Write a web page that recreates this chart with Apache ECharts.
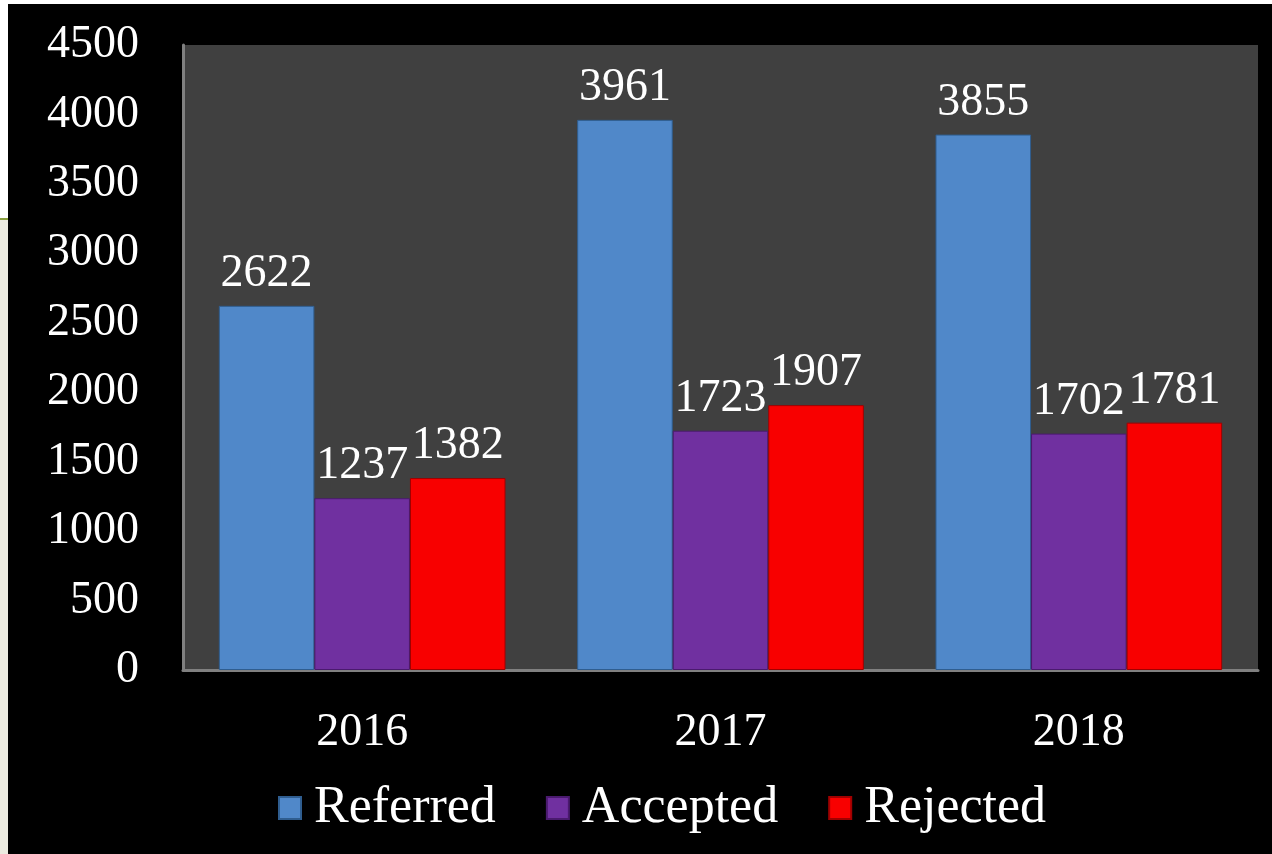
<!DOCTYPE html>
<html>
<head>
<meta charset="utf-8">
<script src="https://cdn.jsdelivr.net/npm/echarts@6/dist/echarts.min.js"></script>
<style>
  html, body { margin: 0; padding: 0; background: #ffffff; }
  #strip { position: absolute; left: 0; top: 218px; width: 8px; height: 636px; background: #ecebe0; border-top: 2px dashed #8aa040; }
  #main { position: absolute; left: 8px; top: 4px; width: 1264px; height: 850px; background: #000; }
</style>
</head>
<body>
<div id="strip"></div>
<div id="main"></div>
<script>
// chart data
var years = ["2016", "2017", "2018"];
var referred = [2622, 3961, 3855];
var accepted = [1237, 1723, 1702];
var rejected = [1382, 1907, 1781];

var serif = "'Liberation Serif', 'DejaVu Serif', serif";

function barSeries(name, data, color, edge) {
  return {
    name: name,
    type: "bar",
    data: data,
    barGap: 0,
    barCategoryGap: "20%",
    itemStyle: {
      color: color,
      borderColor: edge,
      borderWidth: 1
    },
    label: {
      show: true,
      position: "top",
      distance: 9,
      color: "#fff",
      fontFamily: serif,
      fontSize: 46
    }
  };
}

var myChart = echarts.init(document.getElementById("main"));
myChart.setOption({
  backgroundColor: "#000",
  animation: false,
  grid: {
    left: 175,
    right: 14,
    top: 41,
    bottom: 184,
    show: true,
    backgroundColor: "#404040",
    borderWidth: 0
  },
  legend: {
    bottom: 15,
    left: 265,
    itemWidth: 22,
    itemHeight: 22,
    itemGap: 50,
    icon: "rect",
    textStyle: { color: "#fff", fontFamily: serif, fontSize: 52, padding: [0, 0, 0, 8] },
    data: ["Referred", "Accepted", "Rejected"]
  },
  xAxis: {
    type: "category",
    data: years,
    axisLine: { lineStyle: { color: "#808080", width: 3 } },
    axisTick: { show: false },
    axisLabel: { color: "#fff", fontFamily: serif, fontSize: 46, margin: 40 }
  },
  yAxis: {
    type: "value",
    min: 0,
    max: 4500,
    interval: 500,
    axisLine: { show: true, lineStyle: { color: "#808080", width: 3 } },
    axisTick: { show: false },
    splitLine: { show: false },
    axisLabel: {
      color: "#fff",
      fontFamily: serif,
      fontSize: 46,
      margin: 44,
      formatter: function (v) { return String(v); }
    }
  },
  series: [
    barSeries("Referred", referred, "#5088c9", "#2f5d8f"),
    barSeries("Accepted", accepted, "#7030a0", "#4a1a6e"),
    barSeries("Rejected", rejected, "#f80000", "#a00000")
  ]
});
</script>
</body>
</html>
